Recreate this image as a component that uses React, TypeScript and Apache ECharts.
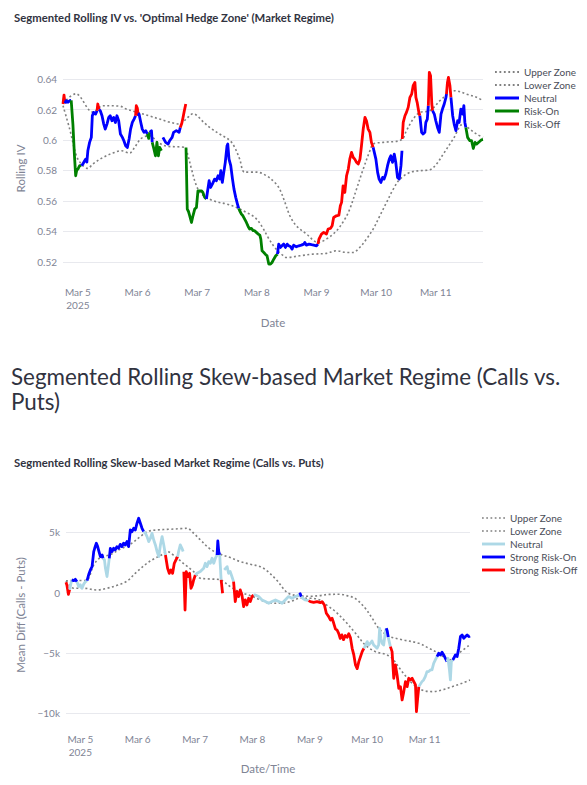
import React, { useEffect, useRef } from "react";
import * as echarts from "echarts";

const FONT = "Lato, 'Noto Sans', sans-serif";
const TEXT_DARK = "#31333F";
const TEXT_GRAY = "#808495";
const GRID_COLOR = "#e8e9ee";
const ZONE_COLOR = "#808080";

const ivTitle = "Segmented Rolling IV vs. 'Optimal Hedge Zone' (Market Regime)";
const pageHeading = "Segmented Rolling Skew-based Market Regime (Calls vs.\nPuts)";
const skewTitle = "Segmented Rolling Skew-based Market Regime (Calls vs. Puts)";

const dayTicks = ["Mar 5", "Mar 6", "Mar 7", "Mar 8", "Mar 9", "Mar 10", "Mar 11"];
const yearTick = "2025";

// [hours after 2025-03-05 00:00, rolling IV, regime]  regime: N Neutral, O Risk-On, F Risk-Off
// (lower-case code = segment starts after a break in the line)
const ivPoints: [number, number, string][] = [
  [-6.0, 0.6236, "F"], [-5.6, 0.6295, "F"], [-5.2, 0.624, "N"], [-4.7, 0.6258, "N"], [-4.0, 0.6247, "N"], [-3.3, 0.6258, "N"],
  [-2.7, 0.626, "O"], [-2.0, 0.61, "O"], [-1.4, 0.59, "O"], [-0.9, 0.5765, "O"], [-0.5, 0.58, "O"], [0.0, 0.5809, "O"], [0.7, 0.5831, "O"],
  [1.4, 0.5831, "N"], [2.0, 0.5842, "N"], [2.6, 0.586, "N"], [3.1, 0.5874, "N"], [3.6, 0.5855, "N"], [4.0, 0.5929, "N"], [4.7, 0.5984, "N"],
  [5.4, 0.6017, "N"], [5.8, 0.6159, "N"], [6.3, 0.6181, "N"], [7.1, 0.617, "N"],
  [7.7, 0.6192, "F"], [8.0, 0.6236, "F"],
  [8.5, 0.62, "N"], [9.0, 0.6192, "N"], [9.7, 0.6159, "N"], [10.4, 0.6104, "N"], [11.0, 0.6071, "N"], [11.7, 0.6104, "N"], [12.4, 0.6148, "N"],
  [13.0, 0.6159, "N"], [13.7, 0.6126, "N"], [14.4, 0.6148, "N"], [15.1, 0.6115, "N"], [15.7, 0.6159, "N"], [16.4, 0.6126, "N"], [17.1, 0.6039, "N"],
  [17.9, 0.6017, "N"], [18.5, 0.5995, "N"], [19.2, 0.5962, "N"], [19.9, 0.5951, "N"], [20.6, 0.6006, "N"], [21.2, 0.6071, "N"], [21.9, 0.6115, "N"],
  [22.6, 0.6137, "N"],
  [23.2, 0.6159, "F"], [23.5, 0.6225, "F"], [23.9, 0.621, "F"],
  [24.3, 0.6159, "N"], [24.6, 0.617, "N"], [25.3, 0.6115, "N"], [25.9, 0.6071, "N"], [26.6, 0.605, "N"], [27.3, 0.6061, "N"],
  [27.9, 0.6039, "O"], [28.5, 0.601, "O"],
  [28.9, 0.605, "N"], [29.6, 0.6061, "N"],
  [29.9, 0.5984, "O"], [30.6, 0.594, "O"], [31.2, 0.5896, "O"], [31.8, 0.5984, "O"], [32.4, 0.5896, "O"], [32.9, 0.5951, "O"], [33.6, 0.5929, "O"],
  [34.2, 0.6017, "n"], [35.3, 0.5984, "N"], [36.3, 0.5973, "N"], [36.9, 0.5995, "N"], [37.9, 0.6017, "N"], [38.5, 0.605, "N"], [39.6, 0.6061, "N"],
  [40.7, 0.605, "N"],
  [41.2, 0.6082, "F"], [41.8, 0.611, "F"], [42.3, 0.6148, "F"], [42.8, 0.619, "F"], [43.4, 0.6236, "F"],
  [43.5, 0.5951, "o"], [44.0, 0.5546, "O"], [44.5, 0.553, "O"], [45.0, 0.5502, "O"], [45.7, 0.5458, "O"], [46.3, 0.5502, "O"], [47.0, 0.5546, "O"],
  [47.7, 0.5557, "O"], [48.3, 0.5666, "O"], [49.0, 0.5666, "O"], [49.7, 0.5666, "O"], [50.3, 0.5655, "O"], [51.0, 0.5623, "O"],
  [51.7, 0.5612, "N"], [52.0, 0.5645, "N"], [52.8, 0.5732, "N"], [53.4, 0.5688, "N"], [54.1, 0.571, "N"], [55.0, 0.5743, "N"], [55.7, 0.5732, "N"],
  [56.4, 0.5765, "N"], [57.1, 0.5743, "N"], [57.5, 0.5798, "N"], [58.1, 0.5721, "N"], [58.7, 0.5787, "N"], [59.3, 0.5853, "N"], [60.0, 0.5962, "N"],
  [60.3, 0.5973, "N"], [60.8, 0.5874, "N"], [61.5, 0.5831, "N"], [62.2, 0.5743, "N"], [62.8, 0.5677, "N"], [63.5, 0.5623, "N"], [64.2, 0.5579, "N"],
  [64.7, 0.555, "O"], [65.1, 0.5535, "O"], [65.8, 0.5513, "O"], [66.4, 0.5502, "O"], [67.1, 0.548, "O"], [67.8, 0.5458, "O"], [68.5, 0.5432, "O"],
  [69.1, 0.5415, "O"], [69.8, 0.5419, "O"], [70.5, 0.5404, "O"], [71.1, 0.5404, "O"], [71.8, 0.5393, "O"], [72.5, 0.5382, "O"], [73.2, 0.5375, "O"],
  [73.6, 0.5349, "O"], [74.1, 0.5272, "O"], [74.8, 0.5261, "O"], [75.4, 0.525, "O"], [76.1, 0.5239, "O"], [76.8, 0.5185, "O"], [77.5, 0.5185, "O"],
  [78.1, 0.5195, "O"], [78.8, 0.5217, "O"], [79.6, 0.5239, "O"],
  [80.3, 0.525, "N"], [80.8, 0.5316, "N"], [81.5, 0.5294, "N"], [82.1, 0.5305, "N"], [82.8, 0.5316, "N"], [83.5, 0.5294, "N"], [84.2, 0.5316, "N"],
  [84.8, 0.5305, "N"], [85.5, 0.53, "N"], [86.2, 0.5283, "N"], [86.8, 0.5309, "N"], [87.9, 0.5298, "N"], [88.9, 0.5305, "N"], [89.9, 0.5309, "N"],
  [90.9, 0.5316, "N"], [91.3, 0.5327, "N"], [91.9, 0.5309, "N"], [93.0, 0.5316, "N"], [94.0, 0.5312, "N"], [94.9, 0.5309, "N"], [96.0, 0.5305, "N"],
  [96.6, 0.5316, "F"], [97.0, 0.5349, "F"], [98.0, 0.5382, "F"], [98.9, 0.5393, "F"], [100.0, 0.5382, "F"], [100.7, 0.5415, "F"], [101.6, 0.5419, "F"],
  [102.3, 0.5436, "F"], [102.9, 0.5491, "F"], [104.0, 0.5502, "F"], [105.0, 0.5506, "F"], [105.6, 0.5568, "F"], [106.1, 0.559, "F"], [106.7, 0.5699, "F"],
  [107.4, 0.5655, "F"], [108.1, 0.5765, "F"], [108.8, 0.5809, "F"], [109.4, 0.5874, "F"], [110.1, 0.5918, "F"], [110.8, 0.5885, "F"], [111.4, 0.5874, "F"],
  [112.1, 0.5853, "F"], [112.8, 0.5842, "F"], [113.5, 0.5874, "F"], [114.1, 0.5962, "F"], [114.8, 0.6071, "F"], [115.5, 0.6148, "F"], [116.1, 0.6126, "F"],
  [116.8, 0.6071, "F"], [117.5, 0.605, "F"], [118.1, 0.5984, "F"],
  [118.8, 0.5951, "N"], [119.2, 0.5923, "N"], [119.9, 0.5874, "N"], [120.6, 0.5787, "N"], [121.2, 0.5743, "N"], [121.9, 0.5721, "N"], [122.6, 0.5754, "N"],
  [123.2, 0.5743, "N"], [123.9, 0.5776, "N"], [124.6, 0.5831, "N"], [125.3, 0.5874, "N"], [125.9, 0.5896, "N"], [126.6, 0.5853, "N"], [127.3, 0.5907, "N"],
  [127.9, 0.5853, "N"], [128.6, 0.5754, "N"], [129.3, 0.5743, "N"], [130.0, 0.5831, "N"], [130.4, 0.5929, "N"],
  [130.5, 0.6006, "f"], [130.9, 0.6115, "F"], [131.6, 0.6159, "F"], [132.2, 0.6181, "F"], [132.9, 0.6214, "F"], [133.6, 0.628, "F"], [134.3, 0.6301, "F"],
  [134.9, 0.6356, "F"], [135.6, 0.6378, "F"], [136.0, 0.628, "F"], [136.5, 0.6247, "F"], [137.2, 0.6181, "F"],
  [137.6, 0.6159, "N"], [138.3, 0.605, "N"], [138.9, 0.6039, "N"], [139.6, 0.605, "N"], [140.0, 0.6115, "N"], [140.6, 0.6137, "N"],
  [141.0, 0.6225, "F"], [141.4, 0.6444, "F"], [141.9, 0.6422, "F"], [142.4, 0.6236, "F"],
  [142.7, 0.6192, "N"], [143.4, 0.617, "N"], [144.0, 0.6126, "N"], [144.7, 0.6082, "N"], [145.4, 0.605, "N"], [146.1, 0.617, "N"], [146.7, 0.6203, "N"],
  [147.4, 0.6236, "N"], [148.1, 0.628, "N"],
  [148.3, 0.6301, "F"], [148.7, 0.6378, "F"], [149.1, 0.6411, "F"], [149.7, 0.6356, "F"],
  [150.1, 0.628, "N"], [150.8, 0.6159, "N"], [151.4, 0.6104, "N"], [152.1, 0.6061, "N"], [152.8, 0.6126, "N"], [153.4, 0.6115, "N"], [154.1, 0.6203, "N"],
  [154.8, 0.617, "N"], [155.3, 0.6225, "N"], [155.7, 0.6115, "N"],
  [156.1, 0.6082, "O"], [156.8, 0.6017, "O"], [157.7, 0.5995, "O"], [158.4, 0.5995, "O"], [159.1, 0.5944, "O"], [159.8, 0.5984, "O"], [160.4, 0.5973, "O"],
  [161.5, 0.5988, "O"], [162.4, 0.6001, "O"], [163.0, 0.6003, "O"],
];

// [hours, value]
const ivUpperZone: [number, number][] = [
  [-6, 0.624], [-0.9, 0.6303], [6.0, 0.6183], [10.1, 0.6225], [16.8, 0.6222], [19.5, 0.6203], [23.5, 0.6183], [28.9, 0.6157],
  [32.9, 0.6137], [36.9, 0.6117], [41.0, 0.6104], [43.7, 0.614], [46.3, 0.6172], [51.0, 0.611], [53.0, 0.6082], [57.0, 0.6039],
  [61.1, 0.5997], [63.1, 0.5951], [65.1, 0.5874], [67.1, 0.5789], [71.8, 0.5789], [75.9, 0.5765], [79.2, 0.5721], [81.2, 0.5677],
  [83.3, 0.559], [85.3, 0.5502], [87.9, 0.5436], [92.0, 0.5382], [96.6, 0.5327], [100.0, 0.5349], [104.1, 0.5404], [107.4, 0.548],
  [109.4, 0.5546], [112.1, 0.5677], [114.8, 0.5809], [117.5, 0.5929], [118.8, 0.5973], [122.8, 0.5984], [130.2, 0.6001], [132.2, 0.6061],
  [134.9, 0.6137], [137.6, 0.6181], [141.6, 0.6192], [145.7, 0.6258], [149.7, 0.6312], [151.7, 0.6323], [156.4, 0.6301], [160.4, 0.628],
  [163.0, 0.6258],
];
const ivLowerZone: [number, number][] = [
  [-6, 0.6225], [-3.3, 0.6071], [-0.6, 0.5896], [1.4, 0.5842], [4.0, 0.5813], [6.0, 0.5842], [10.1, 0.5885], [14.1, 0.5914],
  [17.5, 0.5929], [20.8, 0.5914], [22.8, 0.5951], [25.5, 0.601], [28.9, 0.6028], [32.2, 0.5984], [36.2, 0.5958], [40.3, 0.5955],
  [43.0, 0.5951], [44.3, 0.5896], [45.7, 0.5809], [47.7, 0.5699], [49.7, 0.5645], [54.4, 0.5601], [59.8, 0.5579], [63.8, 0.5557],
  [67.8, 0.5524], [71.2, 0.5491], [73.9, 0.5436], [76.5, 0.536], [79.2, 0.5294], [81.9, 0.525], [83.9, 0.5228], [89.3, 0.5239],
  [94.6, 0.525], [100.0, 0.5255], [104.1, 0.5272], [108.1, 0.5261], [110.7, 0.5261], [113.4, 0.5294], [116.1, 0.5349], [118.8, 0.5415],
  [121.5, 0.5502], [124.2, 0.559], [126.9, 0.5677], [129.6, 0.5743], [133.6, 0.5787], [137.6, 0.5798], [141.6, 0.5804], [144.3, 0.5842],
  [147.0, 0.5907], [151.0, 0.6006], [155.0, 0.6104], [157.7, 0.6071], [160.4, 0.6039], [163.0, 0.6017],
];

// [hours, mean diff (calls - puts), regime]  L Neutral, B Strong Risk-On, R Strong Risk-Off
const skewPoints: [number, number, string][] = [
  [-6.0, 860, "R"], [-5.6, 600, "R"], [-5.0, -140, "R"],
  [-4.5, 250, "L"], [-4.0, 700, "L"],
  [-3.6, 1050, "B"], [-2.8, 1000, "B"], [-2.1, 1100, "B"],
  [-1.4, 900, "L"], [-0.7, 500, "L"], [0.0, 650, "L"], [0.7, 360, "L"], [1.4, 700, "L"], [2.1, 900, "L"],
  [2.8, 1000, "B"], [3.5, 1500, "B"], [4.2, 1880, "B"], [4.9, 2150, "B"], [5.6, 3400, "B"], [6.0, 3670, "B"], [6.7, 4090, "B"], [7.25, 3810, "B"],
  [7.8, 3400, "B"], [8.4, 2980, "B"], [9.1, 3120, "B"],
  [9.5, 2840, "L"], [10.1, 2700, "L"], [10.5, 2020, "L"], [11.15, 1330, "L"], [11.6, 2020, "L"],
  [12.1, 2840, "B"], [12.55, 3670, "B"], [13.25, 3400, "B"], [13.9, 3670, "B"], [14.6, 3540, "B"], [15.3, 3810, "B"], [16.0, 3670, "B"],
  [16.7, 4000, "B"], [17.4, 3810, "B"], [18.1, 4090, "B"], [18.8, 3950, "B"], [19.5, 4230, "B"], [20.2, 3810, "B"], [20.9, 5190, "B"],
  [21.6, 5050, "B"], [22.3, 5330, "B"], [23.0, 5190, "B"], [23.7, 5750, "B"], [24.4, 6160, "B"], [25.1, 5750, "B"], [25.8, 5330, "B"],
  [26.5, 5050, "L"], [27.2, 4920, "L"], [27.9, 4640, "L"], [28.6, 4230, "L"], [29.3, 4500, "L"], [30.0, 4920, "L"], [30.7, 4360, "L"],
  [31.4, 3950, "L"], [32.1, 3400, "L"], [32.8, 2980, "L"], [33.5, 3950, "L"], [34.2, 4640, "L"], [34.9, 3950, "L"],
  [35.6, 3120, "R"], [36.5, 2020, "R"], [37.2, 1600, "R"], [37.9, 1880, "R"], [38.6, 1600, "R"], [39.3, 2430, "R"], [40.0, 2710, "R"],
  [40.7, 2980, "L"], [41.1, 3400, "L"], [41.8, 3950, "L"], [42.5, 3670, "L"], [43.0, 3400, "L"],
  [43.3, 1740, "r"], [43.8, -1440, "R"], [44.3, 1740, "R"], [45.0, 1330, "R"], [45.7, 1600, "R"], [46.3, 360, "R"], [46.9, 635, "R"], [47.4, 1050, "R"],
  [48.1, 1460, "L"], [48.8, 1600, "L"], [50.2, 1740, "L"], [51.6, 2020, "L"], [52.3, 2430, "L"], [53.0, 2150, "L"], [53.7, 2570, "L"],
  [54.4, 2430, "L"], [55.1, 2850, "L"], [55.8, 2430, "L"], [56.5, 2850, "L"],
  [57.2, 3120, "B"], [57.5, 4280, "B"], [57.9, 3400, "B"],
  [58.3, 3120, "L"],
  [58.9, 1050, "R"], [59.5, -55, "R"],
  [60.2, 1880, "l"], [61.4, 2150, "L"], [62.0, 1600, "L"], [62.7, 1740, "L"], [63.4, 1330, "L"],
  [64.1, 910, "R"], [64.8, -746, "R"], [65.5, 83, "R"], [66.2, -331, "R"], [66.9, 221, "R"], [67.6, -193, "R"], [68.3, -1160, "R"],
  [69.0, -608, "R"], [69.7, -1022, "R"], [70.4, -470, "R"], [71.1, -746, "R"], [71.8, -331, "R"],
  [72.5, -193, "L"], [73.2, -193, "L"], [74.6, -331, "L"], [76.0, -608, "L"], [77.4, -746, "L"], [78.8, -884, "L"], [80.2, -746, "L"],
  [81.6, -608, "L"], [83.0, -746, "L"], [84.4, -884, "L"], [85.7, -608, "L"], [87.1, -331, "L"], [88.5, -470, "L"], [89.9, -331, "L"],
  [91.0, -249, "L"],
  [91.5, -150, "B"], [92.0, -100, "B"],
  [92.4, -350, "L"], [93.0, -470, "L"], [94.1, -608, "L"],
  [95.5, -663, "R"], [96.2, -746, "R"], [97.6, -801, "R"], [99.0, -746, "R"], [100.4, -829, "R"], [101.1, -746, "R"], [102.1, -1022, "R"],
  [102.9, -1712, "R"], [103.9, -1989, "R"], [104.6, -2265, "R"], [105.3, -2127, "R"], [106.0, -2541, "R"], [106.7, -3000, "R"], [107.4, -3100, "R"],
  [108.1, -3400, "R"], [108.7, -3800, "R"], [109.4, -3500, "R"], [110.1, -3900, "R"], [110.8, -3550, "R"], [111.6, -3700, "R"], [112.3, -3400, "R"],
  [113.0, -3750, "R"], [113.7, -4613, "R"], [114.4, -5165, "R"], [115.1, -5994, "R"], [115.8, -6300, "R"], [116.5, -5717, "R"], [117.2, -5303, "R"],
  [117.9, -4889, "R"],
  [118.6, -4613, "L"], [119.0, -4474, "L"], [120.0, -4060, "L"], [120.6, -4336, "L"], [121.3, -4198, "L"], [122.0, -4005, "L"], [122.7, -4336, "L"],
  [123.4, -4474, "L"], [124.1, -4613, "L"], [124.8, -4336, "L"], [125.2, -2955, "L"], [125.7, -3784, "L"], [126.2, -4198, "L"], [126.9, -4336, "L"],
  [127.6, -3232, "L"],
  [128.0, -2955, "B"], [128.4, -3200, "B"],
  [128.8, -3700, "L"], [129.2, -4060, "L"],
  [129.7, -4474, "R"], [130.4, -4889, "R"], [131.1, -7098, "R"], [131.8, -5994, "R"], [132.5, -6822, "R"], [133.2, -7927, "R"], [133.9, -7789, "R"],
  [134.6, -8894, "R"], [135.3, -8203, "R"], [136.0, -7375, "R"], [136.7, -7789, "R"], [137.4, -7098, "R"], [138.1, -7236, "R"], [138.8, -7098, "R"],
  [139.5, -7375, "R"], [140.2, -7651, "R"], [140.6, -9860, "R"], [141.1, -8755, "R"],
  [141.6, -7789, "L"], [142.9, -7375, "L"], [143.6, -7236, "L"], [144.3, -6960, "L"], [145.0, -6546, "L"], [145.7, -6546, "L"], [146.4, -6408, "L"],
  [147.1, -6408, "L"], [147.8, -5856, "L"], [148.5, -5579, "L"],
  [149.2, -5303, "B"], [149.9, -5027, "B"], [150.6, -5165, "B"], [151.3, -4944, "B"], [152.0, -5165, "B"], [152.7, -5441, "B"],
  [153.4, -5717, "L"], [153.8, -5441, "L"], [154.4, -6408, "L"], [154.8, -7236, "L"], [155.2, -5717, "L"],
  [155.8, -5579, "B"], [156.2, -5441, "B"], [156.9, -5165, "B"], [157.6, -5303, "B"], [158.3, -4613, "B"], [159.0, -3646, "B"], [159.7, -3508, "B"],
  [160.4, -3784, "B"], [161.1, -3646, "B"], [161.8, -3508, "B"], [162.5, -3646, "B"], [163.0, -3591, "B"],
];

const skewUpperZone: [number, number][] = [
  [-6.0, 970], [-3.0, 1000], [0.0, 1000], [2.8, 1050], [5.6, 2300], [8.4, 2900], [12.5, 3150], [16.7, 3600], [20.9, 4000],
  [25.1, 4640], [27.9, 5050], [32.1, 5190], [37.6, 5250], [42.0, 5300], [44.6, 5330], [47.4, 4920], [50.2, 4370], [54.4, 3600],
  [58.6, 3180], [62.7, 2900], [66.9, 2570], [71.1, 2350], [75.3, 2150], [78.1, 1800], [82.3, 1000], [86.4, 30], [90.6, -250],
  [96.2, -300], [100.0, -250], [104.0, -150], [108.7, -140], [111.5, -250], [115.1, -500], [119.2, -1300], [122.0, -2100],
  [124.8, -2950], [129.0, -3600], [134.6, -3900], [141.6, -4200], [145.7, -4600], [149.9, -5030], [154.4, -5580], [158.3, -5030],
  [163.0, -4300],
];
const skewLowerZone: [number, number][] = [
  [-6.0, 970], [-4.0, 500], [-2.8, 360], [1.4, 360], [7.0, 220], [11.15, 360], [15.3, 600], [19.5, 950], [23.7, 1740],
  [27.9, 2430], [30.7, 2790], [33.5, 3066], [36.3, 3400], [39.7, 2980], [43.9, 2290], [47.4, 1740], [50.2, 1190], [54.4, 1130],
  [58.6, 1050], [62.7, 500], [66.9, 30], [71.1, -250], [75.3, -600], [79.5, -880], [83.7, -880], [87.8, -750], [92.0, -470],
  [96.2, -470], [100.0, -600], [103.5, -1100], [106.7, -1570], [110.9, -2400], [115.1, -3370], [119.2, -4340], [123.4, -4890],
  [127.6, -5110], [130.4, -5440], [134.6, -6550], [138.8, -7510], [142.9, -8070], [147.1, -8200], [151.3, -8070], [155.5, -7790],
  [159.7, -7510], [163.0, -7240],
];

const ivRegimes: Record<string, { name: string; color: string }> = {
  N: { name: "Neutral", color: "#0000ff" },
  O: { name: "Risk-On", color: "#008000" },
  F: { name: "Risk-Off", color: "#ff0000" },
};
const skewRegimes: Record<string, { name: string; color: string }> = {
  L: { name: "Neutral", color: "#add8e6" },
  B: { name: "Strong Risk-On", color: "#0000ff" },
  R: { name: "Strong Risk-Off", color: "#ff0000" },
};

const SOLID_ICON = "path://M0,0H24V3H0Z";
const DOTTED_ICON =
  "path://M0,0h1.8v1.8h-1.8z M4.4,0h1.8v1.8h-1.8z M8.8,0h1.8v1.8h-1.8z M13.2,0h1.8v1.8h-1.8z M17.6,0h1.8v1.8h-1.8z M22,0h1.8v1.8h-1.8z";

function buildSegments(points: [number, number, string][], regimes: Record<string, { name: string; color: string }>, width: number) {
  const segs: { key: string; data: number[][] }[] = [];
  let cur: { key: string; data: number[][] } | null = null;
  for (const [h, v, code] of points) {
    const key = code.toUpperCase();
    const brk = code !== key;
    const p = [h / 24, v];
    if (!cur || cur.key !== key || brk) {
      if (cur && !brk) cur.data.push(p);
      cur = { key, data: [p] };
      segs.push(cur);
    } else {
      cur.data.push(p);
    }
  }
  return segs.map((s) => {
    const r = regimes[s.key];
    return {
      type: "line",
      name: r.name,
      data: s.data,
      symbol: "none",
      showSymbol: false,
      lineStyle: { color: r.color, width, join: "round" },
      itemStyle: { color: r.color },
      z: 3,
    };
  });
}

function zoneSeries(name: string, pts: [number, number][]) {
  return {
    type: "line",
    name,
    data: pts.map(([h, v]) => [h / 24, v]),
    symbol: "none",
    showSymbol: false,
    smooth: 0.35,
    lineStyle: { color: ZONE_COLOR, width: 1.6, type: [2, 2.5] },
    itemStyle: { color: ZONE_COLOR },
    z: 2,
  };
}

function dayLabel(v: number) {
  const i = Math.round(v);
  if (Math.abs(v - i) > 1e-6 || i < 0 || i >= dayTicks.length) return "";
  return i === 0 ? dayTicks[i] + "\n" + yearTick : dayTicks[i];
}

function xAxisOpt(name: string, nameGap: number, min: number, max: number) {
  return {
    type: "value",
    min,
    max,
    splitNumber: 7,
    name,
    nameLocation: "middle",
    nameGap,
    nameTextStyle: { fontFamily: FONT, fontSize: 11.5, color: TEXT_GRAY },
    axisLine: { show: false },
    axisTick: { show: false },
    splitLine: { show: false },
    axisLabel: {
      showMinLabel: false,
      showMaxLabel: false,
      margin: 10,
      fontFamily: FONT,
      fontSize: 10,
      lineHeight: 13,
      color: TEXT_GRAY,
      formatter: (v: number) => dayLabel(v),
    },
  };
}

function yAxisOpt(name: string, nameGap: number, min: number, max: number, splitNumber: number, fmt: (v: number) => string) {
  return {
    type: "value",
    min,
    max,
    splitNumber,
    name,
    nameLocation: "middle",
    nameGap,
    nameTextStyle: { fontFamily: FONT, fontSize: 11.5, color: TEXT_GRAY },
    axisLine: { show: false },
    axisTick: { show: false },
    splitLine: { show: true, showMinLine: false, showMaxLine: false, lineStyle: { color: GRID_COLOR, width: 1 } },
    axisLabel: {
      showMinLabel: false,
      showMaxLabel: false,
      margin: 6,
      fontFamily: FONT,
      fontSize: 10,
      color: TEXT_GRAY,
      formatter: fmt,
    },
  };
}

function legendOpt(left: number, top: number, names: string[], itemWidth: number) {
  return {
    orient: "vertical",
    left,
    top,
    padding: 0,
    itemWidth,
    itemHeight: 12,
    itemGap: 3,
    data: names.map((n, i) => ({ name: n, icon: i < 2 ? DOTTED_ICON : SOLID_ICON })),
    textStyle: { fontFamily: FONT, fontSize: 10, color: "#4a4d58" },
  };
}

const xMin = ivPoints[0][0] / 24;
const xMax = ivPoints[ivPoints.length - 1][0] / 24;

function ivOption() {
  return {
    animation: false,
    textStyle: { fontFamily: FONT },
    title: {
      text: ivTitle,
      left: 14,
      top: 9,
      padding: 0,
      textStyle: { fontFamily: FONT, fontSize: 11.3, lineHeight: 16, fontWeight: "bold", color: TEXT_DARK },
    },
    grid: { left: 63, top: 62, width: 420, height: 213 },
    legend: legendOpt(495, 67, ["Upper Zone", "Lower Zone", "Neutral", "Risk-On", "Risk-Off"], 24),
    xAxis: xAxisOpt("Date", 41, xMin, xMax),
    yAxis: yAxisOpt("Rolling IV", 37, 0.5113, 0.6512, 7, (v: number) => String(parseFloat(v.toFixed(2)))),
    series: [
      zoneSeries("Upper Zone", ivUpperZone),
      zoneSeries("Lower Zone", ivLowerZone),
      ...buildSegments(ivPoints, ivRegimes, 2.8),
    ],
  };
}

function skewOption() {
  return {
    animation: false,
    textStyle: { fontFamily: FONT },
    title: [
      {
        text: pageHeading,
        left: 11,
        top: 19,
        padding: 0,
        textStyle: { fontFamily: FONT, fontSize: 22.4, lineHeight: 25, fontWeight: "normal", color: TEXT_DARK },
      },
      {
        text: skewTitle,
        left: 14,
        top: 109.7,
        padding: 0,
        textStyle: { fontFamily: FONT, fontSize: 11.3, lineHeight: 16, fontWeight: "bold", color: TEXT_DARK },
      },
    ],
    grid: { left: 66, top: 163, width: 404, height: 214 },
    legend: legendOpt(482, 168, ["Upper Zone", "Lower Zone", "Neutral", "Strong Risk-On", "Strong Risk-Off"], 23),
    xAxis: xAxisOpt("Date/Time", 40, xMin, xMax),
    yAxis: yAxisOpt("Mean Diff (Calls - Puts)", 40, -10720, 7010, 3, (v: number) =>
      v === 0 ? "0" : (v < 0 ? "\u2212" : "") + Math.round(Math.abs(v) / 1000) + "k"
    ),
    series: [
      zoneSeries("Upper Zone", skewUpperZone),
      zoneSeries("Lower Zone", skewLowerZone),
      ...buildSegments(skewPoints, skewRegimes, 2.8),
    ],
  };
}

function Chart({ top, height, option }: { top: number; height: number; option: () => any }) {
  const ref = useRef<HTMLDivElement>(null);
  useEffect(() => {
    if (!ref.current) return;
    const chart = echarts.init(ref.current, undefined, { renderer: "svg" });
    chart.setOption(option());
    return () => chart.dispose();
  }, [option]);
  return <div ref={ref} style={{ position: "absolute", left: 0, top, width: 587, height }} />;
}

export default function App() {
  return (
    <div style={{ position: "absolute", left: 0, top: 0, width: 587, height: 785, background: "#ffffff" }}>
      <Chart top={0} height={345} option={ivOption} />
      <Chart top={345} height={440} option={skewOption} />
    </div>
  );
}
